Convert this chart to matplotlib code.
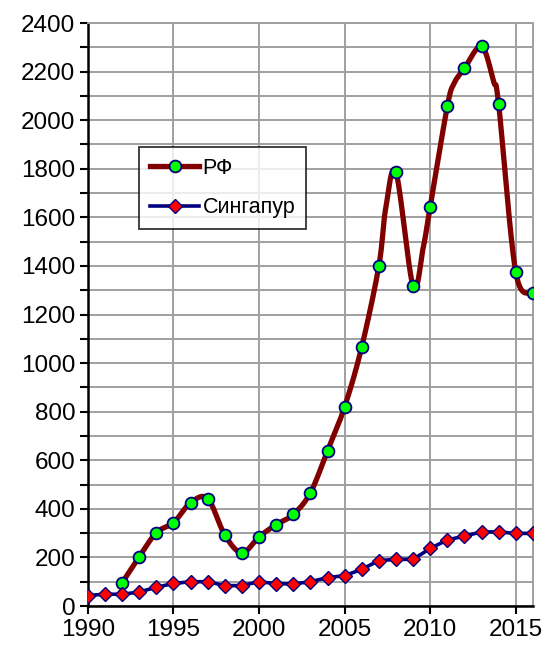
import numpy as np
import matplotlib
matplotlib.use("Agg")
import matplotlib.pyplot as plt
from matplotlib.ticker import MultipleLocator

plt.rcParams['font.family'] = ['Liberation Sans', 'DejaVu Sans']

# data
years = list(range(1990, 2017))
rf_years = list(range(1992, 2017))
rf_vals = [96, 203, 302, 343, 425, 442, 292, 219, 285, 335, 377, 466, 639,
           820, 1067, 1400, 1785, 1317, 1644, 2057, 2213, 2304, 2065, 1374, 1290]
# extra nodes of the curve (no markers)
rf_mid_years = [2007.4, 2009.6, 2011.4, 2013.7]
rf_mid_vals = [1637, 1479, 2152, 2159]
sg_vals = [43, 49, 48, 58, 77, 93, 100, 100, 84, 84, 100, 92, 91, 100, 117,
           125, 151, 187, 192, 192, 237, 272, 288, 305, 305, 299, 299]


def smooth(x, y, n=30):
    # Excel-like smoothed line (uniform Catmull-Rom)
    p = np.column_stack([x, y]).astype(float)
    p = np.vstack([p[0], p, p[-1]])
    out = []
    for i in range(1, len(p) - 2):
        p0, p1, p2, p3 = p[i - 1], p[i], p[i + 1], p[i + 2]
        t = np.linspace(0, 1, n)[:, None]
        c1 = p1 + (p2 - p0) / 6
        c2 = p2 - (p3 - p1) / 6
        seg = ((1 - t) ** 3) * p1 + 3 * ((1 - t) ** 2) * t * c1 + 3 * (1 - t) * t ** 2 * c2 + t ** 3 * p2
        out.append(seg)
    out = np.vstack(out)
    return out[:, 0], out[:, 1]


fig = plt.figure(figsize=(5.46, 6.48), dpi=100)
ax = fig.add_axes([0.161, 0.0648, 0.815, 0.8997])

# RF curve
nodes = sorted(zip(rf_years + rf_mid_years, rf_vals + rf_mid_vals))
sx, sy = smooth([a for a, b in nodes], [b for a, b in nodes])
ax.plot(sx, sy, color='#800000', lw=3.8, solid_capstyle='round', zorder=3)
ax.plot(rf_years, rf_vals, ls='none', marker='o', ms=8.5, mfc='#00ff00',
        mec='#000080', mew=1.3, zorder=4)

# Singapore
ax.plot(years, sg_vals, color='#000080', lw=2.6, marker='D', ms=7.3,
        mfc='#ff0000', mec='#000080', mew=1.0, zorder=5)

# legend proxies
h1, = ax.plot([], [], color='#800000', lw=3.8, marker='o', ms=8.5,
              mfc='#00ff00', mec='#000080', mew=1.3)
h2, = ax.plot([], [], color='#000080', lw=2.6, marker='D', ms=7.3,
              mfc='#ff0000', mec='#000080', mew=1.0)
leg = ax.legend([h1, h2], ['РФ', 'Сингапур'], loc='upper left',
                bbox_to_anchor=(0.115, 0.787), fontsize=15.5, frameon=True,
                fancybox=False, edgecolor='black', handlelength=2.3,
                handletextpad=0.15, borderpad=0.5, labelspacing=0.85,
                borderaxespad=0, markerscale=1)
leg.get_frame().set_linewidth(1.3)
leg.set_zorder(6)

ax.set_xlim(1990, 2016)
ax.set_ylim(0, 2400)
ax.xaxis.set_major_locator(MultipleLocator(5))
ax.yaxis.set_major_locator(MultipleLocator(200))
ax.yaxis.set_minor_locator(MultipleLocator(100))
ax.grid(True, which='both', axis='y', color='#a0a0a0', lw=1.4)
ax.grid(True, which='major', axis='x', color='#a0a0a0', lw=1.4)
ax.set_axisbelow(True)

for s in ['left', 'bottom']:
    ax.spines[s].set_color('black')
    ax.spines[s].set_linewidth(1.8)
for s in ['top', 'right']:
    ax.spines[s].set_color('#a0a0a0')
    ax.spines[s].set_linewidth(1.4)

ax.tick_params(axis='both', which='both', direction='out', length=6,
               width=1.5, color='black', labelsize=17.5, pad=3)
ax.tick_params(axis='y', which='minor', length=6)

fig.savefig('out.png', dpi=100)
